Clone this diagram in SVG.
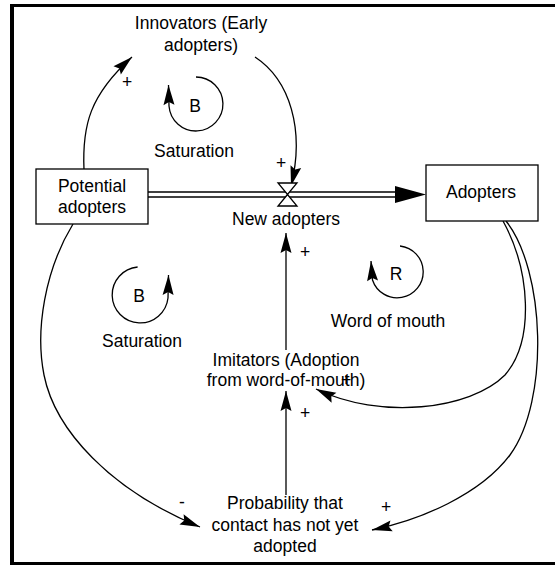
<svg xmlns="http://www.w3.org/2000/svg" width="555" height="565" viewBox="0 0 555 565">
<style>
text{font-family:"Liberation Sans",Arial,sans-serif;font-size:17.5px;fill:#000;text-anchor:middle}
.ln{fill:none;stroke:#000;stroke-width:1.3}
.box{fill:#fff;stroke:#000;stroke-width:1.3}
.frame{stroke:#000;fill:none}
</style>
<defs>
<marker id="ah" markerUnits="userSpaceOnUse" markerWidth="22" markerHeight="12" refX="20" refY="5.5" orient="auto" overflow="visible">
<path d="M0,0 L20,5.5 L0,11 L3,5.5 z" fill="#000"/>
</marker>
</defs>
<rect width="555" height="565" fill="#fff"/>
<g id="frame">
<line class="frame" x1="12" y1="4" x2="12" y2="565" stroke-width="4"/>
<line class="frame" x1="10" y1="5.5" x2="555" y2="5.5" stroke-width="3"/>
<line class="frame" x1="10" y1="563.5" x2="555" y2="563.5" stroke-width="3"/>
</g>
<g id="connectors">
<path class="ln" d="M84,170 C82,125 90,95 132,57" marker-end="url(#ah)"/>
<path class="ln" d="M255,57 C290,80 305,130 291,186" marker-end="url(#ah)"/>
<line class="ln" x1="286" y1="350" x2="286" y2="233" marker-end="url(#ah)"/>
<line class="ln" x1="286" y1="495" x2="286" y2="391" marker-end="url(#ah)"/>
<path class="ln" d="M73,224 C45,270 35,330 44,375 C55,430 110,490 200,527" marker-end="url(#ah)"/>
<path class="ln" d="M506,221 C545,270 550,400 510,455 C480,495 420,520 372,530" marker-end="url(#ah)"/>
<path class="ln" d="M503,221 C530,270 535,340 505,375 C470,410 380,420 316,389" marker-end="url(#ah)"/>
<path class="ln" d="M196,77 A27,27 0 1 1 169,106 L168.5,85" marker-end="url(#ah)"/>
<path class="ln" d="M137.6,267 A28,28 0 1 0 168,298 L168.5,275" marker-end="url(#ah)"/>
<path class="ln" d="M400,246 A26,26 0 1 1 372.5,280 L371,261" marker-end="url(#ah)"/>
</g>
<g id="flow">
<line class="ln" x1="148" y1="192" x2="398" y2="192"/>
<line class="ln" x1="148" y1="197" x2="398" y2="197"/>
<polygon points="395,186 426,194.5 395,203" fill="#000"/>
</g>
<g id="valve">
<polygon points="278,183 297,183 287.5,194.5" class="box"/>
<polygon points="287.5,194.5 278,206 297,206" class="box"/>
<text x="286" y="225">New adopters</text>
</g>
<g id="potential-adopters">
<rect class="box" x="36" y="169" width="112" height="55"/>
<text x="92" y="192">Potential</text>
<text x="92" y="213">adopters</text>
</g>
<g id="adopters">
<rect class="box" x="426" y="165" width="112" height="56"/>
<text x="481" y="198">Adopters</text>
</g>
<g id="innovators">
<text x="201" y="29">Innovators (Early</text>
<text x="201" y="51">adopters)</text>
</g>
<g id="imitators">
<text x="286" y="366">Imitators (Adoption</text>
<text x="286" y="386">from word-of-mouth)</text>
</g>
<g id="probability">
<text x="285" y="509">Probability that</text>
<text x="285" y="531">contact has not yet</text>
<text x="285" y="552">adopted</text>
</g>
<g id="loop-saturation-upper">
<text x="195" y="112">B</text>
<text x="194" y="157">Saturation</text>
</g>
<g id="loop-saturation-lower">
<text x="139" y="302">B</text>
<text x="142" y="347">Saturation</text>
</g>
<g id="loop-word-of-mouth">
<text x="396" y="280">R</text>
<text x="388" y="327">Word of mouth</text>
</g>
<g id="polarities">
<text x="127" y="88">+</text>
<text x="281" y="169">+</text>
<text x="305" y="258">+</text>
<text x="346" y="386">+</text>
<text x="305" y="419">+</text>
<text x="182" y="508">-</text>
<text x="386" y="513">+</text>
</g>
</svg>
